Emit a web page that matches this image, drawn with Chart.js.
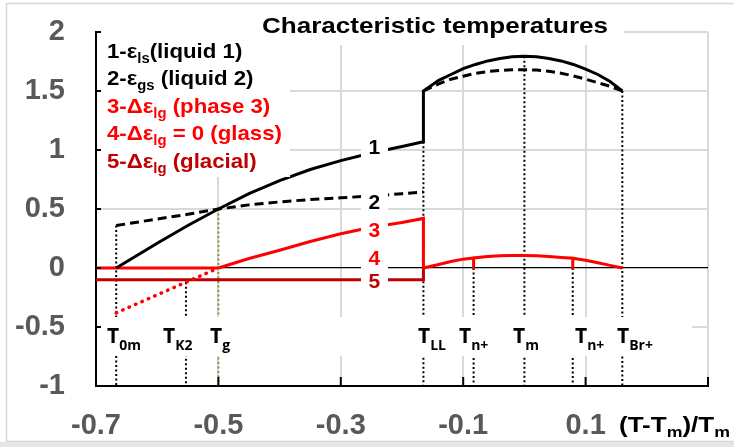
<!DOCTYPE html>
<html><head><meta charset="utf-8">
<script src="https://cdn.jsdelivr.net/npm/chart.js@4.4.0/dist/chart.umd.min.js"></script>
<style>html,body{margin:0;padding:0;background:#fff;overflow:hidden}canvas{display:block}</style>
</head><body><canvas id="c" width="734" height="447"></canvas>
<script>
// ---- tick values / labels ----
const xTicks=[-0.7,-0.5,-0.3,-0.1,0.1,0.3];
const xTickLabels=['-0.7','-0.5','-0.3','-0.1','0.1',''];
const yTicks=[-1,-0.5,0,0.5,1,1.5,2];
const yTickLabels=['-1','-0.5','0','0.5','1','1.5','2'];

// ---- characteristic temperatures (x positions) ----
const T0m=-0.667, TK2=-0.553, Tg=-0.5, TLL=-0.165, Tn1=-0.083, Tm=0, Tn2=0.079, TBr=0.16;

// ---- curve 1 (solid black) & curve 2 (dashed black) ----
const lowX=[-0.667,-0.6,-0.55,-0.5,-0.45,-0.4,-0.35,-0.3,-0.25,-0.2,-0.165];
const c1LowY=[0,0.21,0.36,0.5,0.63,0.74,0.835,0.91,0.975,1.03,1.07];
const c2LowY=[0.36,0.415,0.455,0.5,0.535,0.56,0.58,0.595,0.61,0.63,0.645];
const highX=[-0.165,-0.14,-0.12,-0.1,-0.08,-0.06,-0.04,-0.02,0,0.02,0.04,0.06,0.08,0.1,0.12,0.14,0.16];
const c1HighY=[1.5,1.59,1.64,1.69,1.725,1.755,1.775,1.79,1.795,1.79,1.775,1.755,1.725,1.685,1.64,1.58,1.5];
const c2HighY=[1.5,1.56,1.6,1.625,1.65,1.665,1.675,1.68,1.68,1.678,1.668,1.65,1.628,1.6,1.57,1.54,1.5];

// ---- curve 3 (red, phase 3) ----
const c3X=[-0.5,-0.45,-0.4,-0.35,-0.3,-0.25,-0.2,-0.165,-0.165];
const c3Y=[0,0.08,0.15,0.225,0.29,0.345,0.385,0.42,0];

// ---- curve 4 (red, glass) ----
const c4LeftX=[-0.7,-0.5];
const c4LeftY=[0,0];
const c4RightX=[-0.165,-0.14,-0.12,-0.1,-0.083,-0.083,-0.083,-0.06,-0.04,-0.02,0,0.02,0.04,0.06,0.079,0.079,0.079,0.1,0.12,0.14,0.16];
const c4RightY=[0,0.03,0.055,0.075,0.085,-0.01,0.085,0.097,0.103,0.105,0.105,0.103,0.098,0.09,0.083,-0.01,0.083,0.065,0.045,0.022,0];
const c4DotX=[-0.667,-0.5];
const c4DotY=[-0.38,0];

// ---- curve 5 (dark red, glacial) ----
const c5X=[-0.7,-0.165,-0.165];
const c5Y=[-0.1,-0.1,0];

// ---- dotted vertical markers: x, top y ----
const markX=[T0m,TK2,Tg,TLL,Tn1,Tm,Tn2,TBr];
const markTop=[0.36,-0.12,0.5,1.07,0,1.795,0,1.5];
const markSub=['0m','K2','g','LL','n+','m','n+','Br+'];
const markLabelLeft=[107,163,210,418,459,513,575,617];

const pts=(xs,ys)=>xs.map((x,i)=>({x:x,y:ys[i]}));
const RED='#ff0000', DRED='#c00000';

const datasets=[
  {data:pts(lowX.concat(highX),c1LowY.concat(c1HighY)),borderColor:'#000',borderWidth:3},
  {data:pts(lowX,c2LowY),borderColor:'#000',borderWidth:3,borderDash:[9,5]},
  {data:pts(highX,c2HighY),borderColor:'#000',borderWidth:3,borderDash:[9,5]},
  {data:pts(c3X,c3Y),borderColor:RED,borderWidth:3},
  {data:pts(c4LeftX,c4LeftY),borderColor:RED,borderWidth:3},
  {data:pts(c4RightX,c4RightY),borderColor:RED,borderWidth:3},
  {data:pts(c4DotX,c4DotY),borderColor:RED,borderWidth:3.5,borderDash:[0.5,6.5],borderCapStyle:'round'},
  {data:pts(c5X,c5Y),borderColor:DRED,borderWidth:3},
];
markX.forEach((mx,i)=>{
  datasets.push({data:pts([mx,mx],[markTop[i],-1]),borderColor:(mx===Tg?'#8f8f3c':'#000'),borderWidth:2,borderDash:[2,2.5]});
});
datasets.forEach(d=>{d.showLine=true;d.pointRadius=0;d.fill=false;});

function rich(ctx,x,y,parts,opts){
  let w=0;
  parts.forEach(p=>{ctx.font=p.f;p.w=ctx.measureText(p.t).width;w+=p.w;});
  const sx=opts.width?opts.width/w:(opts.sx||1);
  ctx.save();ctx.translate(x,y);ctx.scale(sx,1);
  ctx.textBaseline='alphabetic';ctx.textAlign='left';
  let cx=0;
  parts.forEach(p=>{ctx.font=p.f;ctx.fillStyle=p.c||opts.c||'#000';ctx.fillText(p.t,cx,p.dy||0);cx+=p.w;});
  ctx.restore();
  return sx;
}

const F='"Liberation Sans", Arial, sans-serif';
const curveLabels=[['1',1.02,'#000'],['2',0.557,'#000'],['3',0.324,RED],['4',0.079,RED],['5',-0.112,DRED]];

const deco={id:'deco',
  afterDatasetsDraw(chart){
    const ctx=chart.ctx, xs=chart.scales.x, ys=chart.scales.y;
    ctx.save();
    ctx.fillStyle='#fff';
    ctx.fillRect(98,28,192,149);   // legend box
    ctx.fillRect(245,4,379,41);    // title box
    ctx.fillRect(100,317,592,39);  // marker label band
    const lx=xs.getPixelForValue(-0.245);
    curveLabels.forEach(l=>{const cy=ys.getPixelForValue(l[1]);ctx.fillRect(lx-13.5,cy-11,27,22);});
    ctx.restore();
  },
  afterDraw(chart){
    const ctx=chart.ctx, xs=chart.scales.x, ys=chart.scales.y;
    ctx.save();
    // inward ticks
    ctx.strokeStyle='#000';ctx.lineWidth=2;
    const ax=xs.left, by=ys.bottom;
    yTicks.forEach(v=>{const y=ys.getPixelForValue(v);ctx.beginPath();ctx.moveTo(ax,y);ctx.lineTo(ax+5,y);ctx.stroke();});
    xTicks.forEach(v=>{const x=xs.getPixelForValue(v);ctx.beginPath();ctx.moveTo(x,by);ctx.lineTo(x,by-9);ctx.stroke();});
    // title
    rich(ctx,262,33,[{t:'Characteristic temperatures',f:'bold 22px '+F}],{width:346,c:'#000'});
    // legend
    const lf='bold 21px '+F, sf='bold 14px '+F;
    const leg=[
      [{t:'1-\u03b5',f:lf},{t:'ls',f:sf,dy:5},{t:'(liquid 1)',f:lf}],'#000',
      [{t:'2-\u03b5',f:lf},{t:'gs',f:sf,dy:5},{t:' (liquid 2)',f:lf}],'#000',
      [{t:'3-\u0394\u03b5',f:lf},{t:'lg',f:sf,dy:5},{t:' (phase 3)',f:lf}],RED,
      [{t:'4-\u0394\u03b5',f:lf},{t:'lg',f:sf,dy:5},{t:' = 0 (glass)',f:lf}],RED,
      [{t:'5-\u0394\u03b5',f:lf},{t:'lg',f:sf,dy:5},{t:' (glacial)',f:lf}],DRED
    ];
    let sxL=null;
    {ctx.save();let w=0;leg[6].forEach(p=>{ctx.font=p.f;w+=ctx.measureText(p.t).width;});ctx.restore();sxL=175/w;}
    for(let i=0;i<5;i++){rich(ctx,107,57.5+i*27.5,leg[i*2],{sx:sxL,c:leg[i*2+1]});}
    // curve labels
    const lx=xs.getPixelForValue(-0.245);
    ctx.font='bold 21px '+F;ctx.textAlign='center';ctx.textBaseline='middle';
    curveLabels.forEach(l=>{ctx.fillStyle=l[2];ctx.fillText(l[0],lx,ys.getPixelForValue(l[1])+1);});
    // marker labels
    const mf='bold 21px "Open Sans", sans-serif', msf='bold 14px "Open Sans", sans-serif';
    markSub.forEach((s,i)=>{rich(ctx,markLabelLeft[i],343,[{t:'T',f:mf},{t:s,f:msf,dy:7}],{sx:1,c:'#000'});});
    // axis title
    rich(ctx,619,432,[{t:'(T-T',f:'bold 22px '+F},{t:'m',f:'bold 15px '+F,dy:5},{t:')/T',f:'bold 22px '+F},{t:'m',f:'bold 15px '+F,dy:5}],{width:111,c:'#000'});
    // outer frame
    ctx.strokeStyle='#d6d6d6';ctx.lineWidth=1.5;ctx.strokeRect(6.5,3.5,800,438);
    ctx.fillStyle='#e6e6e6';ctx.fillRect(0,442,734,5);
    ctx.restore();
  }
};

new Chart(document.getElementById('c'),{
  type:'scatter',
  data:{datasets:datasets},
  options:{
    responsive:false,animation:false,
    layout:{padding:{left:0,right:26,top:32,bottom:0}},
    plugins:{legend:{display:false},tooltip:{enabled:false},title:{display:false}},
    elements:{line:{tension:0}},
    scales:{
      x:{type:'linear',min:-0.7,max:0.3,
        afterBuildTicks:s=>{s.ticks=xTicks.map(v=>({value:v}));},
        afterFit:s=>{s.height=61;s.paddingLeft=0;s.paddingRight=0;},
        ticks:{callback:(v,i)=>xTickLabels[i],color:'#595959',font:{family:F,weight:'bold',size:29},padding:23,maxRotation:0,autoSkip:false},
        grid:{drawTicks:false,color:c=>c.tick&&c.tick.value===-0.7?'rgba(0,0,0,0)':'#d9d9d9',lineWidth:2},
        border:{display:true,color:'#000',width:2}
      },
      y:{type:'linear',min:-1,max:2,
        afterBuildTicks:s=>{s.ticks=yTicks.map(v=>({value:v}));},
        afterFit:s=>{s.width=96;s.paddingTop=0;s.paddingBottom=0;},
        ticks:{callback:(v,i)=>yTickLabels[i],color:'#595959',font:{family:F,weight:'bold',size:29},padding:31,autoSkip:false},
        grid:{drawTicks:false,color:c=>{const v=c.tick&&c.tick.value;return v===0?'#000':(v===-1?'rgba(0,0,0,0)':'#d9d9d9');},lineWidth:c=>(c.tick&&c.tick.value===0)?1.2:2},
        border:{display:true,color:'#000',width:2}
      }
    }
  },
  plugins:[deco]
});
</script></body></html>
